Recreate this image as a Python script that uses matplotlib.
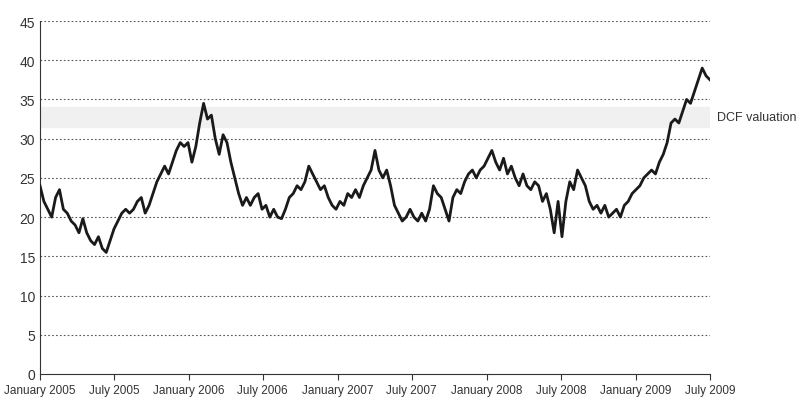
import matplotlib
matplotlib.use("Agg")
import matplotlib.pyplot as plt
import numpy as np
import pandas as pd

prices = [24, 22, 21, 20, 22.5, 23.5, 21, 20.5, 19.5, 19, 18, 19.8, 18, 17, 16.5, 17.5, 16, 15.5, 17, 18.5, 19.5, 20.5, 21, 20.5, 21, 22, 22.5,
          20.5, 21.5, 23, 24.5, 25.5, 26.5, 25.5, 27, 28.5, 29.5, 29, 29.5, 27, 29, 32, 34.5, 32.5, 33, 30, 28, 30.5, 29.5, 27, 25, 23, 21.5,
          22.5, 21.5, 22.5, 23, 21, 21.5, 20, 21, 20, 19.8, 21, 22.5, 23, 24, 23.5, 24.5, 26.5, 25.5, 24.5, 23.5, 24, 22.5, 21.5, 21, 22,
          21.5, 23, 22.5, 23.5, 22.5, 24, 25, 26, 28.5, 26, 25, 26, 24, 21.5, 20.5, 19.5, 20, 21, 20, 19.5, 20.5, 19.5, 21, 24, 23, 22.5,
          21, 19.5, 22.5, 23.5, 23, 24.5, 25.5, 26, 25, 26, 26.5, 27.5, 28.5, 27, 26, 27.5, 25.5, 26.5, 25, 24, 25.5, 24, 23.5, 24.5, 24,
          22, 23, 21, 18, 22, 17.5, 22, 24.5, 23.5, 26, 25, 24, 22, 21, 21.5, 20.5, 21.5, 20, 20.5, 21, 20, 21.5, 22, 23, 23.5, 24, 25,
          25.5, 26, 25.5, 27, 28, 29.5, 32, 32.5, 32, 33.5, 35, 34.5, 36, 37.5, 39, 38, 37.5]
start, end = pd.Timestamp("2005-01-01"), pd.Timestamp("2009-07-01")
dates = pd.to_datetime(np.linspace(start.value, end.value, len(prices)))
tick_dates = pd.date_range("2005-01-01", "2009-07-01", freq="6MS")
tick_labels = [d.strftime("%B %Y") for d in tick_dates]
dcf_low, dcf_high = 31.5, 34

plt.rcParams['font.family'] = ['Liberation Sans', 'DejaVu Sans']
fig = plt.figure(figsize=(8.03, 4.10), dpi=100)
ax = fig.add_axes([40/803, 35/410, 670/803, 353/410])
ax.axhspan(dcf_low, dcf_high, color='#f0f0f0', zorder=0)
for y in range(5, 50, 5):
    ax.axhline(y, color='#555555', lw=0.8, ls=(0, (1.5, 2)), zorder=1)
ax.plot(dates, prices, color='#1a1a1a', lw=2, zorder=3)
ax.set_xlim(start, end)
ax.set_ylim(0, 45)
ax.set_yticks(range(0, 50, 5))
ax.set_xticks(tick_dates)
ax.set_xticklabels(tick_labels)
for s in ['top', 'right']:
    ax.spines[s].set_visible(False)
ax.spines['left'].set_color('#333333')
ax.spines['bottom'].set_color('#333333')
ax.tick_params(labelsize=8.5, colors='#333333', length=4)
ax.tick_params(axis='y', length=0, labelsize=10)
ax.text(1.01, (dcf_low + dcf_high) / 2 / 45, "DCF valuation", transform=ax.transAxes,
        va='center', ha='left', fontsize=9, color='#333333')
fig.savefig("out.png", dpi=100)
